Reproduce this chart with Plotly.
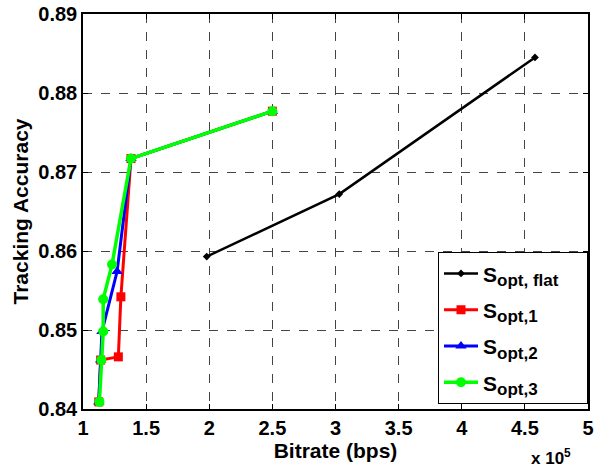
import plotly.graph_objects as go

# Bitrate in units of 1e5 bps
flat_x = [1.98, 3.03, 4.58]
flat_y = [0.8593, 0.8672, 0.8845]

s1_x = [1.125, 1.14, 1.28, 1.30, 1.38, 2.50]
s1_y = [0.8409, 0.8462, 0.8466, 0.8542, 0.8717, 0.8777]

s2_x = [1.125, 1.14, 1.15, 1.27, 1.38, 2.50]
s2_y = [0.8409, 0.8462, 0.8498, 0.8574, 0.8717, 0.8777]

s3_x = [1.13, 1.145, 1.16, 1.16, 1.23, 1.38, 2.50]
s3_y = [0.8409, 0.8462, 0.8498, 0.8539, 0.8583, 0.8717, 0.8777]

series_names = ["opt, flat", "opt,1", "opt,2", "opt,3"]

x_ticks = [1, 1.5, 2, 2.5, 3, 3.5, 4, 4.5, 5]
x_tick_text = ["1", "1.5", "2", "2.5", "3", "3.5", "4", "4.5", "5"]
y_ticks = [0.84, 0.85, 0.86, 0.87, 0.88, 0.89]
y_tick_text = ["0.84", "0.85", "0.86", "0.87", "0.88", "0.89"]

FONT = "Arial"


def legend_label(sub):
    return ("<b>S<sub><span style='font-size:17px'>%s</span></sub>"
            "&nbsp;&nbsp;&nbsp;&nbsp;</b>" % sub)


fig = go.Figure()
fig.add_trace(go.Scatter(x=flat_x, y=flat_y, mode="lines+markers",
                         name=legend_label(series_names[0]), legendgroup="g0",
                         line=dict(color="black", width=2.5),
                         marker=dict(symbol="diamond", size=6, color="black")))
fig.add_trace(go.Scatter(x=s1_x, y=s1_y, mode="lines+markers",
                         name=legend_label(series_names[1]), legendgroup="g1",
                         line=dict(color="#ff0000", width=3),
                         marker=dict(symbol="square", size=9, color="#ff0000")))
fig.add_trace(go.Scatter(x=s2_x, y=s2_y, mode="lines+markers",
                         name=legend_label(series_names[2]), legendgroup="g2",
                         line=dict(color="#0000ff", width=3),
                         marker=dict(symbol="triangle-up", size=10, color="#0000ff")))
fig.add_trace(go.Scatter(x=s3_x, y=s3_y, mode="lines+markers",
                         name=legend_label(series_names[3]), legendgroup="g3",
                         line=dict(color="#00ff00", width=3.5),
                         marker=dict(symbol="circle", size=10, color="#00ff00")))

axis_common = dict(showline=True, linecolor="black", linewidth=1.5, mirror="ticks",
                   ticks="inside", ticklen=5, tickcolor="black",
                   showgrid=True, gridcolor="#444444", griddash="dash", gridwidth=1,
                   zeroline=False, automargin=False,
                   tickfont=dict(family=FONT, size=20, color="black"))

fig.update_xaxes(range=[1, 5], tickvals=x_ticks,
                 ticktext=["<b>%s</b>" % t for t in x_tick_text],
                 title=dict(text="<b>Bitrate (bps)</b>", standoff=0,
                            font=dict(family=FONT, size=21, color="black")),
                 **axis_common)
fig.update_yaxes(range=[0.84, 0.89], tickvals=y_ticks,
                 ticktext=["<b>%s</b>" % t for t in y_tick_text],
                 title=dict(text="<b>Tracking Accuracy</b>", standoff=4,
                            font=dict(family=FONT, size=21, color="black")),
                 **axis_common)

fig.add_annotation(text="<b>x 10<sup>5</sup></b>", xref="paper", yref="paper",
                   x=0.97, y=-0.088, xanchor="right", yanchor="top", showarrow=False,
                   font=dict(family=FONT, size=17, color="black"))

fig.update_layout(
    width=595, height=467,
    margin=dict(l=83, r=7, t=14, b=58, autoexpand=False),
    paper_bgcolor="white", plot_bgcolor="white",
    showlegend=True,
    legend=dict(x=1, y=0.012, xanchor="right", yanchor="bottom",
                bgcolor="white", bordercolor="black", borderwidth=1,
                font=dict(family=FONT, size=21, color="black"),
                itemwidth=34, tracegroupgap=6),
    font=dict(family=FONT, size=20, color="black"),
)

fig.write_html("out.html", config={"displayModeBar": False},
               post_script="document.body.style.margin='0';document.body.style.padding='0';")
